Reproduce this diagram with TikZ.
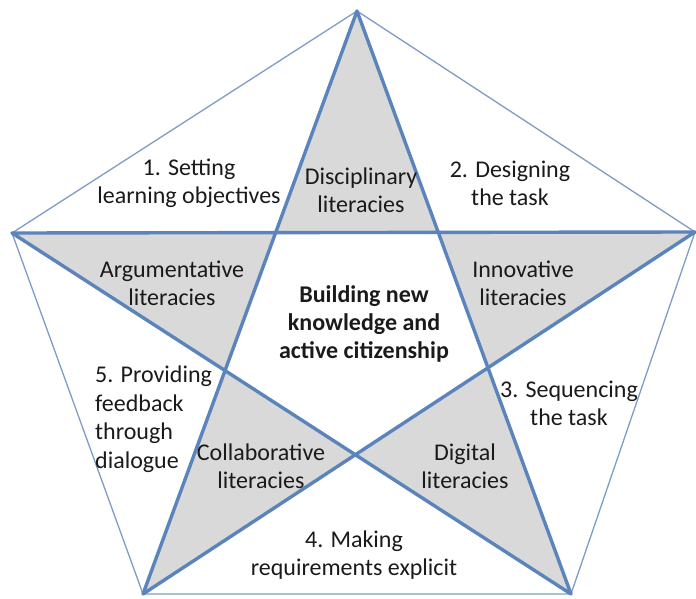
\documentclass[tikz,border=0pt]{standalone}
\usepackage{fontspec}
\setmainfont{Carlito}
\definecolor{starblue}{HTML}{5B84BC}
\definecolor{pentblue}{HTML}{7E9CC4}
\definecolor{greyfill}{HTML}{D9D9D9}
\definecolor{txt}{HTML}{1A1A1A}
\tikzset{
  starline/.style={draw=starblue, line width=3.4pt, line join=round},
  pentline/.style={draw=pentblue, line width=1.3pt, line join=round},
  lbl/.style={inner sep=0pt, align=center, text=txt, font=\fontsize{24}{28}\selectfont},
  lblleft/.style={inner sep=0pt, align=left, text=txt, font=\fontsize{24}{28.5}\selectfont},
  lblbold/.style={inner sep=0pt, align=center, text=txt, font=\fontsize{24}{28}\selectfont\bfseries}
}
\begin{document}
\begin{tikzpicture}[x=1pt,y=-1pt]
\useasboundingbox (0,0) rectangle (696,599);
\coordinate (T) at (357,11);
\coordinate (L) at (12,233);
\coordinate (R) at (695,232);
\coordinate (BL) at (143,594);
\coordinate (BR) at (571,594);
% grey star points
\fill[greyfill, even odd rule] (T)--(BL)--(R)--(L)--(BR)--cycle;
% outer pentagon
\draw[pentline] (T)--(R)--(BR)--(BL)--(L)--cycle;
% star
\draw[starline] (T)--(BL)--(R)--(L)--(BR)--cycle;
% labels
\node[lbl] (s1) at (189,183) {1. Setting\\learning objectives};
\node[lbl] (dis) at (361,190) {Disciplinary\\literacies};
\node[lbl] (s2) at (510,183) {2. Designing\\the task};
\node[lbl] (arg) at (172,283) {Argumentative\\literacies};
\node[lbl] (inn) at (523,283) {Innovative\\literacies};
\node[lblbold] (ctr) at (364,324) {Building new\\knowledge and\\active citizenship};
\node[lblleft, anchor=west] (s5) at (95,419) {5. Providing\\feedback\\through\\dialogue};
\node[lbl] (col) at (261,466) {Collaborative\\literacies};
\node[lbl] (s3) at (569,403) {3. Sequencing\\the task};
\node[lbl] (dig) at (465,466) {Digital\\literacies};
\node[lbl] (s4) at (354,555) {4. Making\\requirements explicit};
\end{tikzpicture}
\end{document}
